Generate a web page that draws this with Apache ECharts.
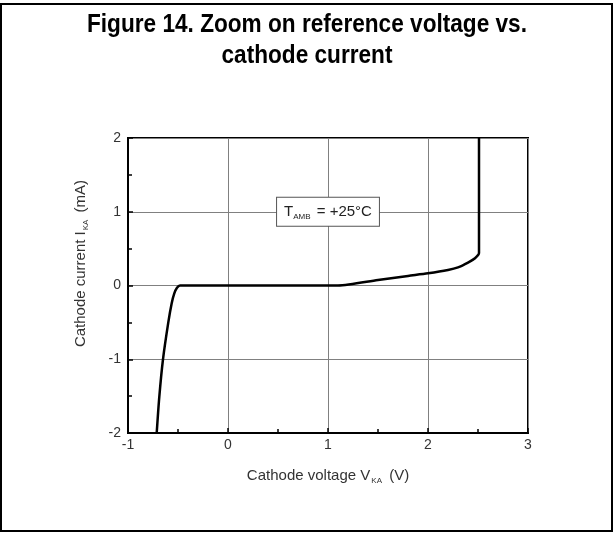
<!DOCTYPE html>
<html>
<head>
<meta charset="utf-8">
<title>Figure 14</title>
<script src="https://cdn.jsdelivr.net/npm/echarts@6/dist/echarts.min.js"></script>
<style>
  html,body{margin:0;padding:0;background:#fff;}
  #main{width:614px;height:533px;}
</style>
</head>
<body>
<div id="main"></div>
<script>
  // cathode voltage (V) / cathode current (mA)
  var vka = [-0.713, -0.687, -0.65, -0.597, -0.563, -0.537, -0.51, -0.48, 0, 1.1, 1.5, 1.8, 2.0, 2.2, 2.3, 2.4, 2.47, 2.51, 2.51];
  var ika = [-2, -1.51, -1, -0.5, -0.24, -0.106, -0.03, 0, 0, 0, 0.075, 0.13, 0.165, 0.21, 0.245, 0.31, 0.37, 0.44, 2];
  var xTicks = [-1, 0, 1, 2, 3];
  var yTicks = [-2, -1, 0, 1, 2];
  var note = { v: 1, i: 1 };

  var chart = echarts.init(document.getElementById('main'));
  var points = vka.map(function (v, k) { return [v, ika[k]]; });
  var font = 'Liberation Sans, Arial, sans-serif';

  // narrow-ish bold title (no condensed font available, so squeeze it)
  function titleLine(txt, y) {
    return {
      type: 'text', x: 307, y: y, scaleX: 0.87, silent: true,
      style: {
        text: txt, align: 'center', verticalAlign: 'top',
        font: 'bold 26px Liberation Sans, Arial, sans-serif', fill: '#000'
      }
    };
  }

  chart.setOption({
    animation: false,
    graphic: [
      {
        type: 'rect',
        shape: { x: 1, y: 4, width: 611, height: 527 },
        style: { fill: 'none', stroke: '#000', lineWidth: 2 },
        silent: true
      },
      titleLine('Figure 14. Zoom on reference voltage vs.', 12),
      titleLine('cathode current', 43)
    ],
    grid: {
      left: 128, top: 138, width: 400, height: 295,
      show: true, borderColor: '#000', borderWidth: 2, backgroundColor: 'transparent'
    },
    xAxis: {
      type: 'value',
      min: xTicks[0], max: xTicks[xTicks.length - 1], interval: 1,
      name: 'Cathode voltage V{s|KA} (V)',
      nameLocation: 'middle',
      nameGap: 34,
      nameTextStyle: {
        fontFamily: font, fontSize: 15, color: '#333',
        rich: { s: { fontSize: 8, padding: [10, 3, 0, 1], fontFamily: font, color: '#333' } }
      },
      axisLine: { onZero: false, lineStyle: { color: '#000', width: 2 } },
      axisTick: { inside: true, length: 5, lineStyle: { color: '#000', width: 1.5 } },
      minorTick: { show: true, splitNumber: 2, length: 4, lineStyle: { color: '#000', width: 1.5 } },
      axisLabel: { fontFamily: font, fontSize: 14, color: '#333', margin: 5 },
      splitLine: { show: true, lineStyle: { color: '#808080', width: 1 } }
    },
    yAxis: {
      type: 'value',
      min: yTicks[0], max: yTicks[yTicks.length - 1], interval: 1,
      name: 'Cathode current I{s|KA} (mA)',
      nameLocation: 'middle',
      nameGap: 38,
      nameTextStyle: {
        fontFamily: font, fontSize: 15, color: '#333',
        padding: [0, 0, 0, 44],
        rich: { s: { fontSize: 8, padding: [10, 3, 0, 1], fontFamily: font, color: '#333' } }
      },
      axisLine: { onZero: false, lineStyle: { color: '#000', width: 2 } },
      axisTick: { inside: true, length: 5, lineStyle: { color: '#000', width: 1.5 } },
      minorTick: { show: true, splitNumber: 2, length: 4, lineStyle: { color: '#000', width: 1.5 } },
      axisLabel: { fontFamily: font, fontSize: 14, color: '#333', margin: 7 },
      splitLine: { show: true, lineStyle: { color: '#808080', width: 1 } }
    },
    series: [{
      type: 'line',
      data: points,
      symbol: 'none',
      smooth: 0.25,
      lineStyle: { color: '#000', width: 2.5 },
      markPoint: {
        symbol: 'rect',
        symbolSize: 0,
        data: [{ coord: [note.v, note.i] }],
        label: {
          show: true,
          position: 'inside',
          formatter: 'T{s|AMB} = +25°C',
          fontFamily: font,
          fontSize: 15,
          color: '#222',
          backgroundColor: '#fff',
          borderColor: '#555',
          borderWidth: 1,
          padding: [5, 7, 5, 7],
          rich: { s: { fontSize: 8, padding: [10, 2, 0, 0], fontFamily: font, color: '#222' } }
        }
      }
    }]
  });
</script>
</body>
</html>
